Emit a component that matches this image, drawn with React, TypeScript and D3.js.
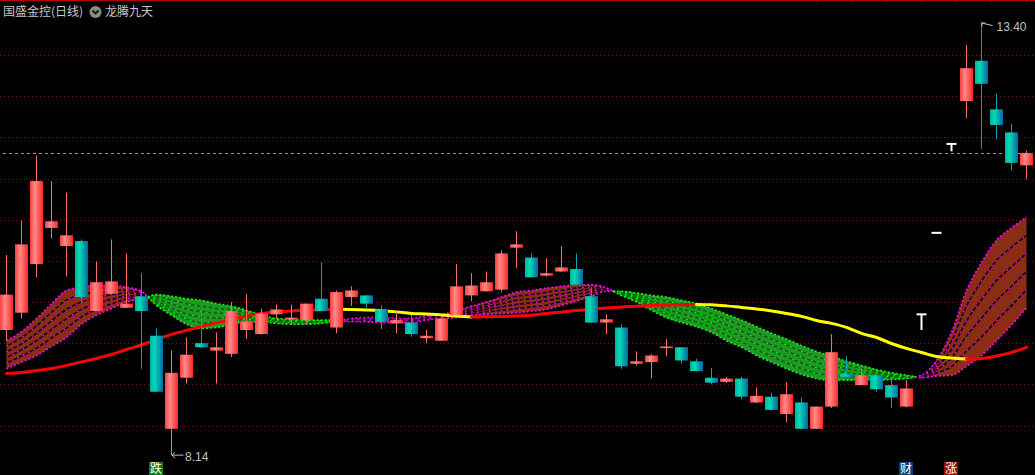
import React from 'react';
import * as d3 from 'd3';

const W = 1035;
const H = 475;

// ---- data (prices) ----
const opens = [9.66, 9.87, 10.46, 10.9, 10.68, 10.74, 9.89, 10.1, 9.93, 10.07,
  9.59, 8.46, 9.08, 9.5, 9.41, 9.37, 9.66, 9.61, 9.85, 9.79,
  9.78, 10.04, 9.69, 10.06, 10.08, 9.91, 9.74, 9.75, 9.56, 9.53,
  9.84, 10.08, 10.13, 10.15, 10.66, 10.54, 10.32, 10.37, 10.4, 10.07,
  9.75, 9.69, 9.25, 9.27, 9.44, 9.45, 9.28, 9.08, 9.03, 9.07,
  8.78, 8.85, 8.64, 8.78, 8.46, 8.73, 9.13, 8.99, 9.11, 8.99,
  8.73, 9.85, 10.84, 11.92, 12.44, 12.93, 12.34, 12.06, 11.66];
const highs = [10.57, 10.99, 11.78, 11.47, 11.33, 10.76, 10.49, 10.76, 10.59, 10.35,
  9.68, 9.41, 9.57, 9.92, 9.63, 10.0, 10.1, 9.92, 9.97, 9.97,
  9.98, 10.48, 10.14, 10.19, 10.09, 9.96, 9.89, 9.84, 9.66, 9.8,
  10.46, 10.35, 10.37, 10.63, 10.86, 10.59, 10.53, 10.68, 10.59, 10.18,
  9.85, 9.73, 9.4, 9.37, 9.55, 9.45, 9.31, 9.2, 9.09, 9.09,
  8.96, 8.9, 9.03, 8.84, 8.73, 9.61, 9.34, 9.19, 9.11, 9.05,
  9.05, 9.85, 10.84, 11.92, 13.12, 13.4, 12.53, 12.16, 11.84];
const lows = [9.53, 9.8, 10.3, 10.77, 10.31, 9.98, 9.89, 10.1, 9.93, 9.19,
  8.91, 8.14, 9.01, 9.44, 9.01, 9.33, 9.55, 9.61, 9.8, 9.73,
  9.73, 9.89, 9.62, 9.95, 9.93, 9.67, 9.62, 9.58, 9.5, 9.53,
  9.84, 10.01, 10.13, 10.12, 10.41, 10.3, 10.31, 10.37, 10.21, 9.75,
  9.61, 9.19, 9.23, 9.07, 9.34, 9.25, 9.16, 9.0, 9.02, 8.82,
  8.77, 8.68, 8.54, 8.45, 8.46, 8.71, 9.09, 8.99, 8.91, 8.71,
  8.72, 9.66, 10.84, 11.83, 12.23, 11.86, 11.98, 11.6, 11.49];
const closes = [10.09, 10.7, 11.47, 10.98, 10.81, 10.06, 10.24, 10.25, 9.98, 9.89,
  8.91, 9.14, 9.36, 9.45, 9.45, 9.89, 9.76, 9.86, 9.91, 9.81,
  9.98, 9.89, 10.12, 10.14, 9.98, 9.76, 9.78, 9.61, 9.59, 9.8,
  10.19, 10.2, 10.24, 10.59, 10.7, 10.3, 10.35, 10.42, 10.21, 9.75,
  9.79, 9.22, 9.28, 9.35, 9.46, 9.29, 9.16, 9.02, 9.07, 8.85,
  8.86, 8.69, 8.88, 8.46, 8.73, 9.39, 9.09, 9.11, 8.94, 8.84,
  8.95, 9.85, 10.84, 11.92, 12.84, 12.65, 12.15, 11.69, 11.81];

// trend line (red when rising, yellow when falling)
const maLine = [9.131, 9.144, 9.168, 9.192, 9.229, 9.271, 9.314, 9.363, 9.423, 9.478,
  9.545, 9.606, 9.655, 9.703, 9.746, 9.788, 9.831, 9.861, 9.88, 9.892,
  9.898, 9.906, 9.912, 9.909, 9.904, 9.895, 9.88, 9.861, 9.855, 9.843,
  9.831, 9.819, 9.821, 9.825, 9.831, 9.839, 9.861, 9.876, 9.898, 9.912,
  9.928, 9.94, 9.947, 9.956, 9.963, 9.968, 9.971, 9.967, 9.953, 9.934,
  9.916, 9.892, 9.861, 9.825, 9.776, 9.74, 9.691, 9.618, 9.569, 9.496,
  9.436, 9.387, 9.338, 9.32, 9.308, 9.314, 9.344, 9.387, 9.448];

// ribbon: fast and slow edges
const bandFast = [9.53, 9.64, 9.8, 9.98, 10.14, 10.18, 10.2, 10.2, 10.18, 10.13,
  9.96, 9.84, 9.73, 9.68, 9.69, 9.73, 9.76, 9.76, 9.74, 9.73,
  9.73, 9.74, 9.77, 9.8, 9.81, 9.81, 9.8, 9.8, 9.83, 9.85,
  9.89, 9.95, 10.0, 10.06, 10.12, 10.14, 10.17, 10.19, 10.21, 10.21,
  10.17, 10.08, 10.0, 9.9, 9.81, 9.75, 9.7, 9.63, 9.53, 9.45,
  9.35, 9.27, 9.19, 9.12, 9.07, 9.05, 9.05, 9.05, 9.05, 9.06,
  9.07, 9.11, 9.29, 9.63, 10.14, 10.48, 10.75, 10.9, 11.03];
const bandSlow = [9.19, 9.27, 9.35, 9.46, 9.57, 9.73, 9.84, 9.92, 10.0, 10.04,
  10.09, 10.07, 10.04, 10.02, 9.98, 9.95, 9.9, 9.84, 9.8, 9.79,
  9.78, 9.78, 9.78, 9.76, 9.76, 9.75, 9.75, 9.75, 9.78, 9.8,
  9.81, 9.83, 9.85, 9.86, 9.87, 9.89, 9.91, 9.96, 10.01, 10.07,
  10.13, 10.13, 10.11, 10.08, 10.06, 10.02, 9.98, 9.92, 9.85, 9.78,
  9.7, 9.62, 9.55, 9.47, 9.4, 9.34, 9.28, 9.23, 9.18, 9.14,
  9.11, 9.08, 9.1, 9.11, 9.22, 9.35, 9.53, 9.72, 9.93];

const priceTicks = [13.0, 12.5, 12.0, 11.5, 11.0, 10.5, 10.0, 9.5, 9.0, 8.5];
const topTickX = [23, 816, 851, 886, 921, 956, 991, 1026];
const stockTitle = '国盛金控(日线)';
const indicatorTitle = '龙腾九天';
const signalIdx = [10, 60, 63];
const signalText = ['跌', '财', '涨'];
const signalFill = ['#0b7d12', '#0f3f74', '#8e0e0e'];
const hatchFractions = [0.2, 0.4, 0.6, 0.8];

type BP = { x: number; a: number; b: number };

export default function App() {
  const n = opens.length;
  const xBand = d3.scaleBand<number>().domain(d3.range(n)).range([0, 1033]).paddingInner(2 / 15).paddingOuter(0);
  const bw = xBand.bandwidth();
  const cx = (i: number) => (xBand(i) as number) + bw / 2;
  const y = d3.scaleLinear().domain([8.5, 13]).range([425.5, 55]);

  // ribbon segments
  const segs: { up: boolean; pts: BP[] }[] = [];
  let cur: { up: boolean; pts: BP[] } | null = null;
  for (let i = 0; i < n; i++) {
    const p = { x: cx(i), a: bandFast[i], b: bandSlow[i] };
    const up = p.a >= p.b;
    if (!cur) cur = { up, pts: [p] };
    else if (cur.up === up) cur.pts.push(p);
    else {
      const prev = cur.pts[cur.pts.length - 1];
      const d0 = prev.a - prev.b;
      const d1 = p.a - p.b;
      const t = d0 / (d0 - d1);
      const cp = { x: prev.x + t * (p.x - prev.x), a: prev.a + t * (p.a - prev.a), b: prev.b + t * (p.b - prev.b) };
      cur.pts.push(cp);
      segs.push(cur);
      cur = { up, pts: [cp, p] };
    }
  }
  if (cur) segs.push(cur);

  const area = d3.area<BP>().x(d => d.x).y0(d => y(d.a)).y1(d => y(d.b)).curve(d3.curveMonotoneX);
  const frLine = (f: number) => d3.line<BP>().x(d => d.x).y(d => y(d.a + f * (d.b - d.a))).curve(d3.curveMonotoneX);

  // trend line runs
  const runs: { up: boolean; idx: number[] }[] = [];
  for (let i = 0; i < n - 1; i++) {
    const up = maLine[i + 1] >= maLine[i];
    const last = runs[runs.length - 1];
    if (last && last.up === up) last.idx.push(i + 1);
    else runs.push({ up, idx: [i, i + 1] });
  }
  const maPath = d3.line<number>().x(i => cx(i)).y(i => y(maLine[i])).curve(d3.curveMonotoneX);

  const hiI = d3.maxIndex(highs);
  const loI = d3.minIndex(lows);
  const lastY = Math.round(y(closes[n - 1])) + 0.5;

  return (
    <div style={{ position: 'fixed', left: 0, top: 0, width: W, height: H, background: '#000', overflow: 'hidden' }}>
      <svg width={W} height={H} style={{ display: 'block' }}>
        <defs>
          <linearGradient id="gUp" x1="0" x2="1" y1="0" y2="0">
            <stop offset="0%" stopColor="#ff3c3c" />
            <stop offset="38%" stopColor="#ff8c8c" />
            <stop offset="100%" stopColor="#ff2626" />
          </linearGradient>
          <linearGradient id="gDn" x1="0" x2="1" y1="0" y2="0">
            <stop offset="0%" stopColor="#00b0ac" />
            <stop offset="35%" stopColor="#00dcb0" />
            <stop offset="100%" stopColor="#0068a8" />
          </linearGradient>
        </defs>
        <rect x={0} y={0} width={W} height={H} fill="#000" />
        <line x1={0} x2={W} y1={0.5} y2={0.5} stroke="#b00000" strokeWidth={1} />
        {topTickX.map(tx => (
          <line key={tx} x1={tx + 0.5} x2={tx + 0.5} y1={0} y2={2} stroke="#b00000" strokeWidth={1} />
        ))}

        {/* grid */}
        {priceTicks.map(p => {
          const yy = Math.round(y(p)) + 0.5;
          return <line key={p} x1={0} x2={W} y1={yy} y2={yy} stroke="#7e1010" strokeWidth={1} strokeDasharray="1 3" />;
        })}

        {/* last close */}
        <line x1={3} x2={W} y1={lastY} y2={lastY} stroke="#9a9a9a" strokeWidth={1} strokeDasharray="3 3" />

        {/* ribbon */}
        {segs.map((s, k) => {
          const fill = s.up ? '#8b2d14' : '#23962a';
          const edge = s.up ? '#ff00ff' : '#00ff00';
          const inner = s.up ? '#000000' : '#0c5c0c';
          return (
            <g key={k}>
              <path d={area(s.pts) || ''} fill={fill} />
              {hatchFractions.map(f => (
                <g key={f}>
                  <path d={frLine(f)(s.pts) || ''} fill="none" stroke={inner} strokeWidth={1.5} />
                  <path d={frLine(f)(s.pts) || ''} fill="none" stroke={edge} strokeWidth={1.2} strokeDasharray="2 4" />
                </g>
              ))}
              <path d={frLine(0)(s.pts) || ''} fill="none" stroke={edge} strokeWidth={1.6} strokeDasharray="2 2" />
              <path d={frLine(1)(s.pts) || ''} fill="none" stroke={edge} strokeWidth={1.6} strokeDasharray="2 2" />
            </g>
          );
        })}

        {/* trend line */}
        {runs.map((r, k) => (
          <path key={k} d={maPath(r.idx) || ''} fill="none" stroke={r.up ? '#ff0000' : '#ffff00'} strokeWidth={3} strokeLinecap="round" />
        ))}

        {/* candles */}
        {opens.map((o, i) => {
          const c = closes[i];
          const x0 = xBand(i) as number;
          const xc = cx(i);
          if (o === c) {
            const yy = y(o);
            return (
              <g key={i}>
                <line x1={xc} x2={xc} y1={y(highs[i])} y2={y(lows[i])} stroke="#ffffff" strokeWidth={2} />
                <line x1={x0 + 1.5} x2={x0 + bw - 1.5} y1={yy} y2={yy} stroke="#ffffff" strokeWidth={2} />
              </g>
            );
          }
          const up = c > o;
          const top = y(Math.max(o, c));
          const bot = y(Math.min(o, c));
          return (
            <g key={i}>
              <line x1={Math.floor(xc) + 0.5} x2={Math.floor(xc) + 0.5} y1={y(highs[i])} y2={y(lows[i])} stroke={up ? '#ff6a6a' : '#00a4b4'} strokeWidth={1} />
              <rect x={x0} y={top} width={bw} height={Math.max(1.5, bot - top)} fill={up ? 'url(#gUp)' : 'url(#gDn)'} />
            </g>
          );
        })}

        {/* high / low marks */}
        <g stroke="#c0c0c0" strokeWidth={1} fill="none">
          <path d={`M${cx(hiI) + 0.5},${y(highs[hiI]) + 1} L${cx(hiI) + 11},${y(highs[hiI]) + 3.5} M${cx(hiI) + 0.5},${y(highs[hiI]) + 1} h3.5 M${cx(hiI) + 0.5},${y(highs[hiI]) + 1} v3.5`} />
          <path d={`M${cx(loI) + 0.5},${y(lows[loI])} H${cx(loI) + 12} M${cx(loI) + 0.5},${y(lows[loI])} l3,-3 M${cx(loI) + 0.5},${y(lows[loI])} l3,3`} />
        </g>
        <text x={cx(hiI) + 15} y={y(highs[hiI]) + 9} fill="#c0c0c0" fontSize={12} fontFamily="'Liberation Sans', Arial, sans-serif">{highs[hiI].toFixed(2)}</text>
        <text x={cx(loI) + 13.5} y={y(lows[loI]) + 5.5} fill="#c0c0c0" fontSize={12} fontFamily="'Liberation Sans', Arial, sans-serif">{lows[loI].toFixed(2)}</text>

        {/* signals */}
        {signalIdx.map((si, k) => (
          <g key={k}>
            <rect x={cx(si) - 7.5} y={462} width={14} height={13} fill={signalFill[k]} />
            <text x={cx(si) - 0.5} y={473} textAnchor="middle" fill="#ffffff" fontSize={12} fontFamily="'Noto Sans CJK SC', sans-serif">{signalText[k]}</text>
          </g>
        ))}

        {/* title */}
        <text x={3} y={16} fill="#c8c8c8" fontSize={12} fontFamily="'Noto Sans CJK SC', sans-serif">{stockTitle}</text>
        <circle cx={95.5} cy={12} r={6} fill="#8a8a8a" />
        <path d="M92.5,10.5 L95.5,13.5 L98.5,10.5" fill="none" stroke="#111" strokeWidth={1.8} />
        <text x={105} y={16} fill="#c8c8c8" fontSize={12} fontFamily="'Noto Sans CJK SC', sans-serif">{indicatorTitle}</text>
      </svg>
    </div>
  );
}
